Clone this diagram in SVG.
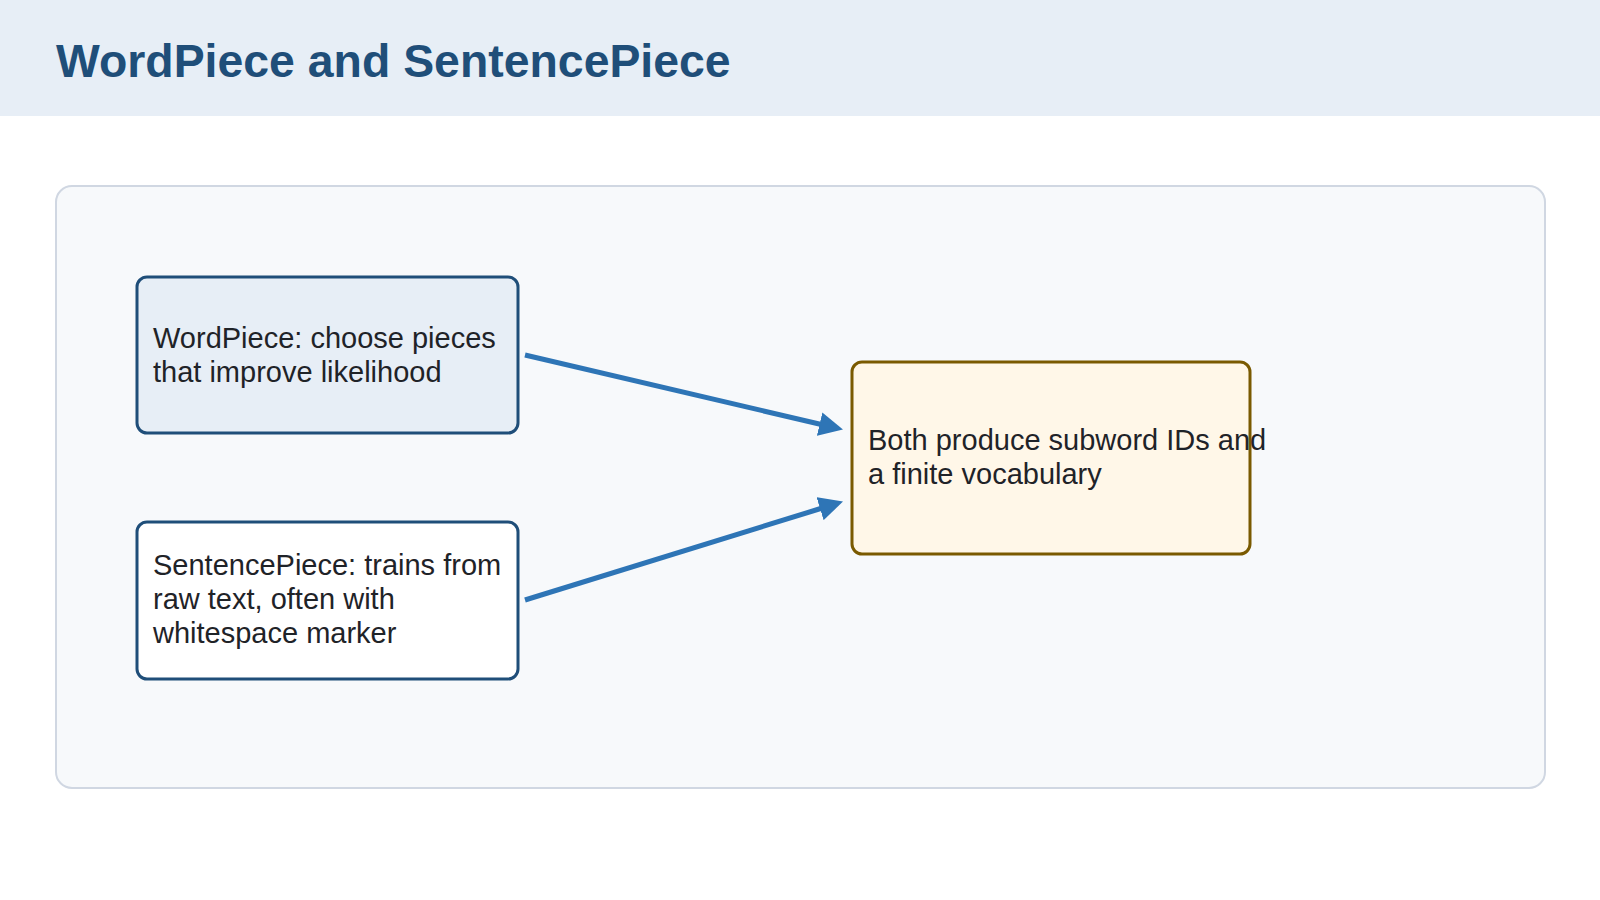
<svg xmlns="http://www.w3.org/2000/svg" width="1600" height="900" viewBox="0 0 1600 900">
  <style>
    .title { font-family: "Liberation Sans", Arial, sans-serif; font-size: 46.4px; font-weight: bold; fill: #1f4e79; }
    .label { font-family: "Liberation Sans", Arial, sans-serif; font-size: 29px; fill: #1f2328; }
    .node-blue { fill: #e7eef6; stroke: #1f4e79; stroke-width: 3; }
    .node-white { fill: #ffffff; stroke: #1f4e79; stroke-width: 3; }
    .node-gold { fill: #fff7e8; stroke: #7a5a00; stroke-width: 3; }
    .edge { stroke: #2e75b6; stroke-width: 5; fill: none; }
  </style>
  <defs>
    <marker id="arrow" markerUnits="userSpaceOnUse" markerWidth="24" markerHeight="24" viewBox="0 0 24 24" refX="4" refY="12" orient="auto">
      <path d="M0,0 L24,12 L0,24 z" fill="#2e75b6"/>
    </marker>
  </defs>
  <rect x="0" y="0" width="1600" height="900" fill="#ffffff"/>
  <g id="header">
    <rect x="0" y="0" width="1600" height="116" fill="#e7eef6"/>
    <text class="title" x="56" y="77">WordPiece and SentencePiece</text>
  </g>
  <g id="panel">
    <rect x="56" y="186" width="1489" height="602" rx="16" ry="16" fill="#f7f9fb" stroke="#d0d7e2" stroke-width="2"/>
  </g>
  <g id="connectors">
    <line class="edge" x1="525" y1="355" x2="823.5" y2="425" marker-end="url(#arrow)"/>
    <line class="edge" x1="525" y1="600" x2="823.9" y2="507.5" marker-end="url(#arrow)"/>
  </g>
  <g id="node-wordpiece">
    <rect class="node-blue" x="137" y="277" width="381" height="156" rx="10" ry="10"/>
    <text class="label" x="153" y="347.5">WordPiece: choose pieces</text>
    <text class="label" x="153" y="381.5">that improve likelihood</text>
  </g>
  <g id="node-sentencepiece">
    <rect class="node-white" x="137" y="522" width="381" height="157" rx="10" ry="10"/>
    <text class="label" x="153" y="574.5">SentencePiece: trains from</text>
    <text class="label" x="153" y="608.5">raw text, often with</text>
    <text class="label" x="153" y="643">whitespace marker</text>
  </g>
  <g id="node-both">
    <rect class="node-gold" x="852" y="362" width="398" height="192" rx="10" ry="10"/>
    <text class="label" x="868" y="449.5">Both produce subword IDs and</text>
    <text class="label" x="868" y="483.5">a finite vocabulary</text>
  </g>
</svg>
